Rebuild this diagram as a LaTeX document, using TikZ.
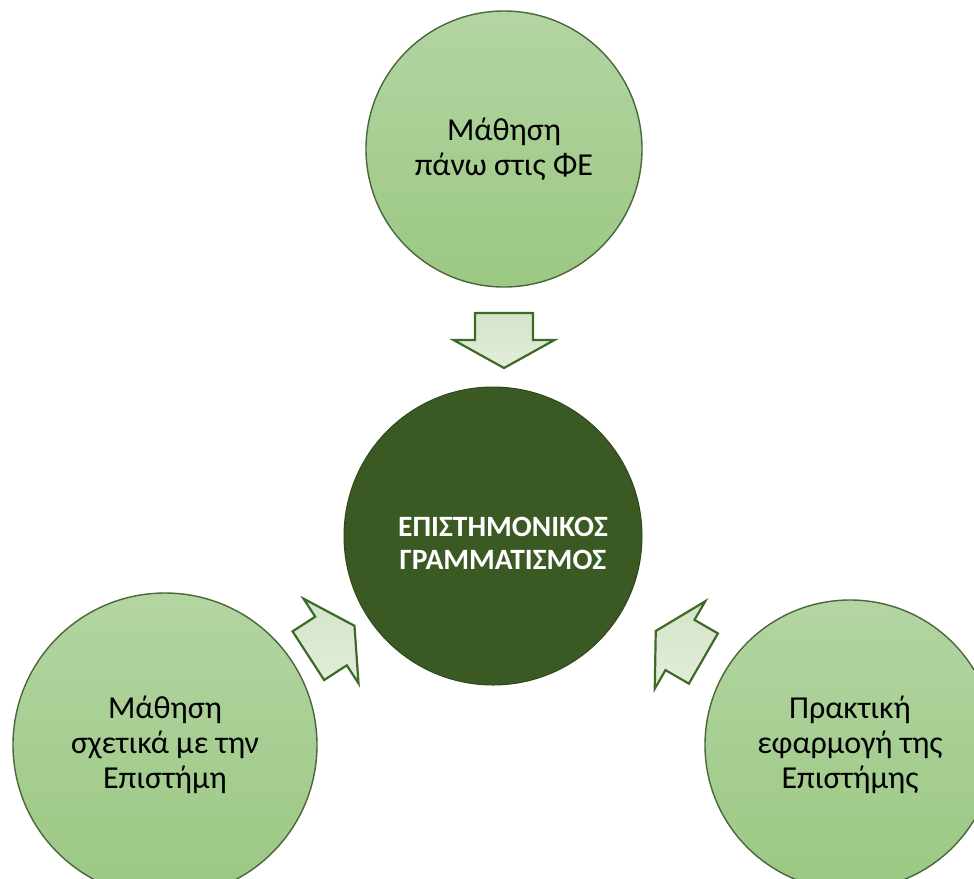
\documentclass[tikz,border=0pt]{standalone}
\usepackage{fontspec}
\setmainfont{Carlito}
\usetikzlibrary{shadings}

\definecolor{leafTop}{HTML}{B3D5A2}
\definecolor{leafBottom}{HTML}{9BC883}
\definecolor{leafEdge}{HTML}{4A663A}
\definecolor{coreFill}{HTML}{3A5923}
\definecolor{arrowTop}{HTML}{D3E4C8}
\definecolor{arrowBottom}{HTML}{E2EDDA}
\definecolor{arrowEdge}{HTML}{3E6A28}

\tikzset{
  leaf/.style={circle, draw=leafEdge, line width=1.4pt,
    top color=leafTop, bottom color=leafBottom,
    inner sep=0pt, align=center, text=black,
    font=\fontsize{32}{35}\selectfont},
  core/.style={circle, draw=coreFill!80!black, line width=1pt, fill=coreFill,
    inner sep=0pt},
  corelabel/.style={align=center, text=white, inner sep=0pt,
    font=\fontsize{29.5}{33}\selectfont\bfseries},
  blockarrow/.pic={
    \path[draw=arrowEdge, line width=2.2pt, line join=miter,
          top color=arrowTop, bottom color=arrowBottom]
      (-27,-29) -- (0,-29) -- (0,-50.5) -- (28,0) -- (0,50.5)
      -- (0,29) -- (-27,29) -- cycle;
  }
}

\begin{document}
\begin{tikzpicture}[x=1pt, y=-1pt]
  \clip (0,0) rectangle (974,878);
  \fill[white] (0,0) rectangle (974,878);

  % central concept
  \node[core, minimum size=298pt] (core) at (493,536) {};
  \node[corelabel] (coretext) at ([xshift=10pt, yshift=-7pt]core.center)
    {ΕΠΙΣΤΗΜΟΝΙΚΟΣ\\ΓΡΑΜΜΑΤΙΣΜΟΣ};

  % three contributing areas
  \node[leaf, minimum size=276pt] (top) at (504,149)
    {Μάθηση\\πάνω στις ΦΕ};
  \node[leaf, minimum size=304pt] (left) at (165,745)
    {Μάθηση\\σχετικά με την\\Επιστήμη};
  \node[leaf, minimum size=290pt] (right) at (850,745)
    {Πρακτική\\εφαρμογή της\\Επιστήμης};

  % block arrows pointing into the centre
  \pic[rotate=-90] at (504,340) {blockarrow};
  \pic[rotate=33] at (331,641) {blockarrow};
  \pic[rotate=150] at (680,645) {blockarrow};
\end{tikzpicture}
\end{document}
